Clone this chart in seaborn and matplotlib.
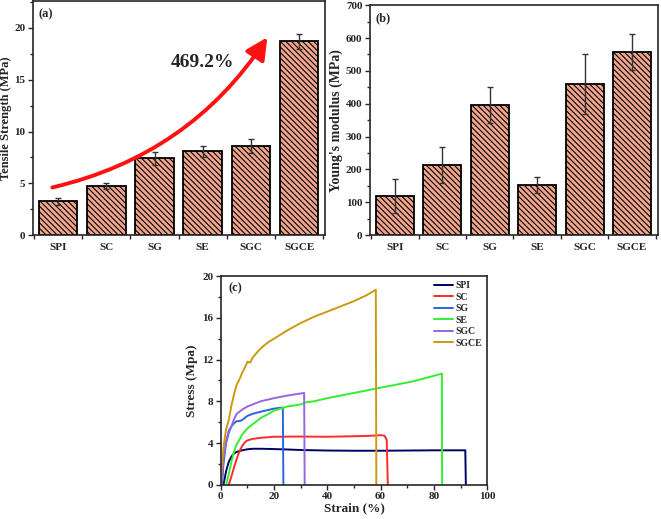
import numpy as np
import pandas as pd
import matplotlib
matplotlib.use("Agg")
import matplotlib.pyplot as plt
from matplotlib.ticker import MultipleLocator, FixedLocator
import seaborn as sns

# ── data ──────────────────────────────────────────────────────
samples = ["SPI", "SC", "SG", "SE", "SGC", "SGCE"]

tensile_strength = [3.25, 4.75, 7.4, 8.1, 8.6, 18.7]
tensile_err = [0.3, 0.3, 0.6, 0.55, 0.7, 0.75]

youngs_modulus = [120, 213, 396, 153, 460, 557]
youngs_err = [52, 55, 55, 24, 90, 55]

spi_strain = [1.0, 2, 3, 4, 5, 6, 8, 10, 12, 15, 20, 25, 30, 40, 50, 60, 70, 80, 90, 91.8, 92.0]
spi_stress = [0, 1.3, 2.2, 2.7, 3.0, 3.15, 3.3, 3.4, 3.45, 3.45, 3.42, 3.38, 3.33, 3.28, 3.26, 3.26, 3.28, 3.3, 3.3, 3.3, 0]

sc_strain = [3.0, 4, 5, 6, 7, 8, 9, 10, 12, 15, 20, 30, 40, 50, 55, 60, 61.5, 62.3, 62.7]
sc_stress = [0, 0.8, 1.7, 2.5, 3.2, 3.7, 4.05, 4.25, 4.4, 4.5, 4.6, 4.62, 4.6, 4.65, 4.68, 4.75, 4.7, 4.3, 0]

sg_strain = [0.5, 1, 2, 3, 4, 5, 6, 7, 8, 10, 12, 15, 20, 23.3, 23.5]
sg_stress = [0, 2.0, 4.0, 5.0, 5.6, 5.9, 6.1, 6.1, 6.2, 6.6, 6.8, 7.0, 7.3, 7.4, 0]

se_strain = [2.0, 3, 4, 5, 6, 7, 8, 10, 12, 15, 18, 20, 25, 30, 32, 35, 40, 50, 60, 70, 72, 78, 83, 83.1]
se_stress = [0, 1.0, 2.2, 3.2, 3.9, 4.3, 4.8, 5.4, 5.8, 6.4, 6.8, 7.1, 7.5, 7.7, 7.9, 8.0, 8.3, 8.8, 9.3, 9.8, 9.9, 10.3, 10.65, 0]

sgc_strain = [0.3, 1, 2, 3, 4, 5, 6, 8, 10, 12, 15, 20, 25, 30, 31.3, 31.5]
sgc_stress = [0, 2.5, 4.2, 5.2, 5.6, 6.3, 6.8, 7.2, 7.5, 7.7, 8.0, 8.3, 8.55, 8.75, 8.8, 0]

sgce_strain = [0.0, 0.5, 1, 1.5, 2, 3, 4, 5, 6, 7, 8, 9, 10, 11, 12, 14, 16, 18, 20, 25, 30, 35, 40, 45, 50, 55, 58.2, 58.4]
sgce_stress = [0, 2.0, 3.5, 4.5, 5.3, 6.2, 7.6, 8.7, 9.6, 10.1, 10.7, 11.2, 11.8, 11.7, 12.2, 12.8, 13.3, 13.7, 14.0, 14.8, 15.5, 16.1, 16.6, 17.1, 17.6, 18.2, 18.7, 0]

curve_colors = ["#000066", "#FF2A2A", "#2A66DD", "#33EE33", "#9966DD", "#CC9911"]

# ── style ─────────────────────────────────────────────────────
sns.set_theme(style="ticks")
plt.rcParams["font.family"] = ["Liberation Serif", "DejaVu Serif"]
plt.rcParams["font.weight"] = "bold"
plt.rcParams["axes.labelweight"] = "bold"
plt.rcParams["axes.linewidth"] = 1.2
plt.rcParams["hatch.linewidth"] = 0.8

bar_color = "#F3A68D"

fig = plt.figure(figsize=(6.61, 5.19), dpi=100)
ax_a = fig.add_axes([0.050, 0.547, 0.442, 0.451])
ax_b = fig.add_axes([0.560, 0.547, 0.435, 0.443])
ax_c = fig.add_axes([0.334, 0.066, 0.403, 0.402])


def bar_panel(ax, values, errs, ylim, ylabel, label, step, label_size):
    df = pd.DataFrame({"sample": samples, "value": values})
    sns.barplot(data=df, x="sample", y="value", color=bar_color, width=0.8,
                saturation=1, edgecolor="black", linewidth=1.3, ax=ax, errorbar=None)
    for p in ax.patches:
        p.set_hatch("\\" * 6)
    ax.errorbar(np.arange(len(samples)), values, yerr=errs, fmt="none",
                ecolor="#333333", elinewidth=1.0, capsize=2.5, capthick=1.0)
    ax.set_xlim(-0.52, 5.54)
    ax.set_ylim(*ylim)
    ax.yaxis.set_major_locator(MultipleLocator(step))
    ax.yaxis.set_minor_locator(MultipleLocator(step / 2))
    ax.set_xlabel("")
    ax.set_ylabel(ylabel, fontsize=label_size, labelpad=2)
    ax.tick_params(axis="x", which="major", length=0, labelsize=8, pad=6)
    ax.xaxis.set_minor_locator(FixedLocator(np.arange(-0.5, 6.0, 1.0)))
    ax.tick_params(axis="x", which="minor", direction="out", length=3, width=1)
    ax.tick_params(axis="y", which="major", direction="out", length=3.5, width=1,
                   labelsize=8, pad=2)
    ax.tick_params(axis="y", which="minor", direction="out", length=2, width=1)
    for s in ax.spines.values():
        s.set_visible(True)
        s.set_linewidth(1.2)
    ax.text(0.02, 0.97, label, transform=ax.transAxes, fontsize=9,
            fontweight="bold", va="top", ha="left")


bar_panel(ax_a, tensile_strength, tensile_err, (0, 22.6),
          "Tensile Strength (MPa)", "(a)", 5, 9)
bar_panel(ax_b, youngs_modulus, youngs_err, (0, 700),
          "Young's modulus (MPa)", "(b)", 100, 10)

# curved arrow with the increase percentage
ax_a.annotate("", xy=(4.34, 19.1), xytext=(-0.12, 4.6),
              arrowprops=dict(arrowstyle="-|>,head_length=1.1,head_width=0.55",
                              connectionstyle="arc3,rad=0.2", color="#FF1111",
                              lw=2.8, shrinkA=0, shrinkB=0))
ax_a.text(3.0, 16.7, "469.2%", fontsize=14, fontweight="bold",
          ha="center", va="center")

# ── (c) stress-strain curves ──────────────────────────────────
curves = [spi_strain, sc_strain, sg_strain, se_strain, sgc_strain, sgce_strain]
stresses = [spi_stress, sc_stress, sg_stress, se_stress, sgc_stress, sgce_stress]
frames = []
for name, xs, ys in zip(samples, curves, stresses):
    frames.append(pd.DataFrame({"strain": xs, "stress": ys, "sample": name}))
curve_df = pd.concat(frames, ignore_index=True)

sns.lineplot(data=curve_df, x="strain", y="stress", hue="sample",
             hue_order=samples, palette=curve_colors, sort=False,
             estimator=None, linewidth=1.4, ax=ax_c)
ax_c.set_xlim(0, 100)
ax_c.set_ylim(0, 20)
ax_c.xaxis.set_major_locator(MultipleLocator(20))
ax_c.xaxis.set_minor_locator(MultipleLocator(10))
ax_c.yaxis.set_major_locator(MultipleLocator(4))
ax_c.yaxis.set_minor_locator(MultipleLocator(2))
ax_c.tick_params(which="major", direction="out", length=3.5, width=1, labelsize=8, pad=2)
ax_c.tick_params(which="minor", direction="out", length=2, width=1)
ax_c.set_xlabel("Strain (%)", fontsize=9.5, labelpad=1)
ax_c.set_ylabel("Stress (Mpa)", fontsize=9.5, labelpad=3)
for s in ax_c.spines.values():
    s.set_visible(True)
    s.set_linewidth(1.2)
ax_c.text(0.03, 0.97, "(c)", transform=ax_c.transAxes, fontsize=9,
          fontweight="bold", va="top", ha="left")
ax_c.legend(loc="upper right", frameon=False, fontsize=7, handlelength=2.0,
            labelspacing=0.25, handletextpad=0.2, borderaxespad=0.15,
            title=None)

fig.savefig("out.png", dpi=100)
